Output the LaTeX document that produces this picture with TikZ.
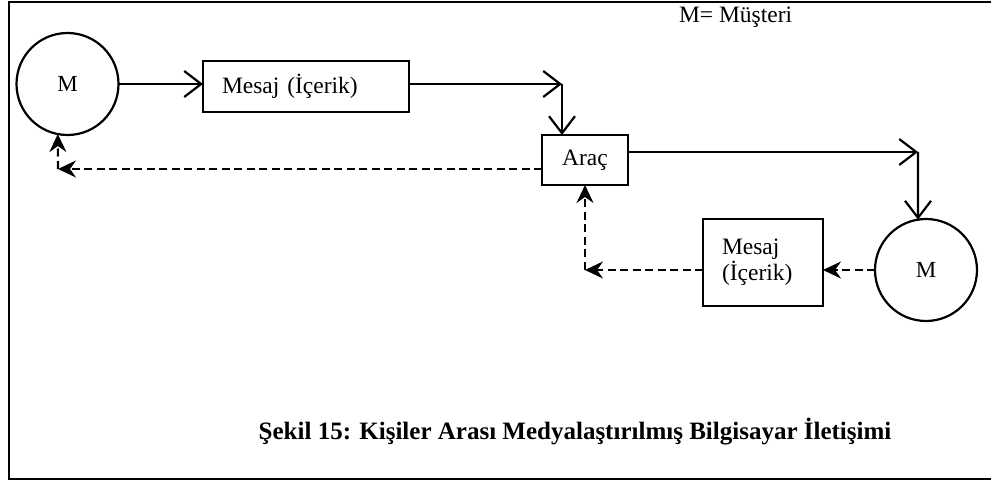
\documentclass[tikz,border=0pt]{standalone}
\usepackage{fontspec}
\setmainfont{Liberation Serif}
\usetikzlibrary{arrows.meta}
\begin{document}
\begin{tikzpicture}[x=1pt,y=-1pt,
  every node/.style={inner sep=0pt, outer sep=0pt},
  box/.style={draw, line width=2.2pt, font=\fontsize{23.5}{26}\selectfont},
  client/.style={draw, circle, line width=2.2pt, minimum size=102pt,
                 font=\fontsize{23}{26}\selectfont},
  flow/.style={line width=2.2pt,
               -{Straight Barb[length=17pt,width=26pt,line width=2.2pt]}},
  reply/.style={line width=2.2pt, dash pattern=on 8pt off 4.5pt,
                -{Stealth[length=18pt,width=17pt,inset=6pt]}}]
  \useasboundingbox (0,0) rectangle (991,481);

  % open frame (no right edge)
  \draw[line width=2.6pt] (991,2) -- (9,2) -- (9,479) -- (991,479);

  % legend
  \node[anchor=base west, font=\fontsize{23.5}{26}\selectfont] (legend) at (679,23) {M= Müşteri};

  % clients, message boxes and medium
  \node[client] (mL) at (67.5,84) {M};
  \node[client] (mR) at (926,270) {M};
  \node[box, minimum height=51pt, inner xsep=19pt, text width=168pt, align=left]
       (msg1) at (306,86.5) {Mesaj (İçerik)};
  \node[box, minimum width=86pt, minimum height=50pt, align=center]
       (arac) at (585,160) {Araç};
  \node[box, minimum height=87pt, inner xsep=19pt, text width=82pt, align=left]
       (msg2) at (763,262.5) {Mesaj\\(İçerik)};

  % bend points
  \coordinate (c1) at (562,84);
  \coordinate (c2) at (918,152);
  \coordinate (c3) at (585,270);
  \coordinate (c4) at (58,169);

  % outgoing message path
  \draw[flow] (mL.east) -- (mL.east -| msg1.west);
  \draw[flow] (msg1.east |- c1) -- (c1);
  \draw[flow] (c1) -- (c1 |- arac.north);
  \draw[flow] (arac.east |- c2) -- (c2);
  \draw[flow] (c2) -- (mR.99);

  % feedback path
  \draw[reply] (mR.west) -- (mR.west -| msg2.east);
  \draw[reply] (msg2.west |- c3) -- (c3);
  \draw[reply] (c3) -- (arac.south);
  \draw[reply] (arac.west |- c4) -- (c4);
  \draw[reply] (c4) -- (mL.259);

  % caption
  \node[font=\bfseries\fontsize{25}{28}\selectfont] (title) at (575,432)
       {Şekil 15: Kişiler Arası Medyalaştırılmış Bilgisayar İletişimi};
\end{tikzpicture}
\end{document}
